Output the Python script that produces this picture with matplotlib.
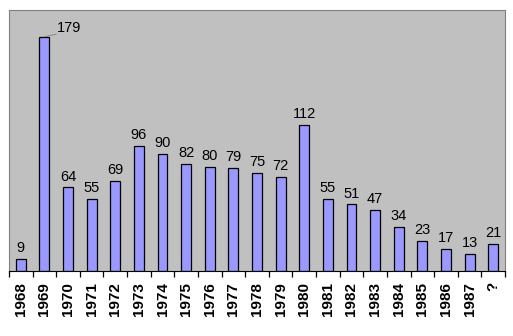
import matplotlib.pyplot as plt
import numpy as np

plt.rcParams['font.family'] = ['Liberation Sans', 'DejaVu Sans']

years = ['1968', '1969', '1970', '1971', '1972', '1973', '1974', '1975', '1976',
         '1977', '1978', '1979', '1980', '1981', '1982', '1983', '1984', '1985',
         '1986', '1987', '?']
counts = [9, 179, 64, 55, 69, 96, 90, 82, 80, 79, 75, 72, 112, 55, 51, 47, 34,
          23, 17, 13, 21]

fig = plt.figure(figsize=(5.13, 3.36), dpi=100)
ax = fig.add_axes([9 / 513, 1 - 271 / 336, 496 / 513, 261 / 336])
ax.set_facecolor('#c0c0c0')

x = np.arange(len(years))
ax.bar(x, counts, width=0.42, color='#9999ff', edgecolor='black', linewidth=0.9)

for i, v in enumerate(counts):
    if i == 1:
        # label moved aside with a short leader
        ax.text(i + 1.05, v + 1.5, str(v), ha='center', va='bottom', fontsize=10.5)
        ax.plot([i, i + 0.5], [v + 0.5, v + 2.5], color='#808080', lw=0.6)
    else:
        ax.text(i, v + 3, str(v), ha='center', va='bottom', fontsize=10.5)

ax.set_xlim(-0.5, len(years) - 0.5)
ax.set_ylim(0, 200)
ax.set_yticks([])
ax.set_xticks(x)
ax.set_xticklabels(years, rotation=90, fontsize=11, fontweight='bold')
ax.set_xticks(np.arange(-0.5, len(years)), minor=True)
ax.tick_params(axis='x', which='major', length=0, pad=8)
ax.tick_params(axis='x', which='minor', length=4, width=0.9)

for side in ['top', 'right', 'left']:
    ax.spines[side].set_color('#808080')
ax.spines['bottom'].set_color('black')

fig.savefig('out.png', dpi=100)
